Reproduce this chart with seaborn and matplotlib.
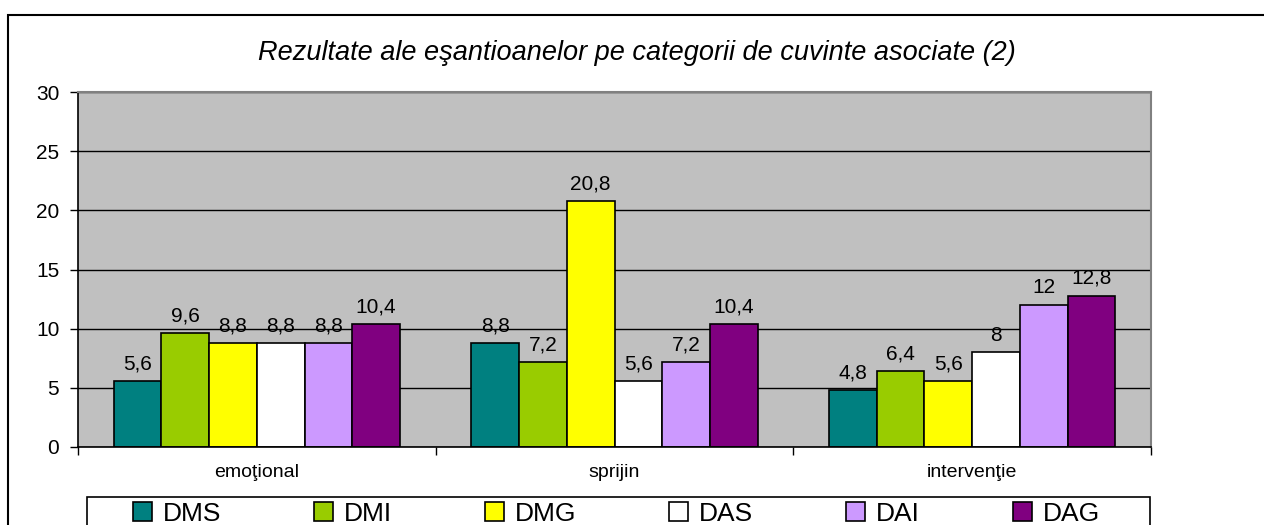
import pandas as pd
import numpy as np
import matplotlib.pyplot as plt
import seaborn as sns
from matplotlib.patches import Patch, Rectangle

categories = ["emoţional", "sprijin", "intervenţie"]
series = ["DMS", "DMI", "DMG", "DAS", "DAI", "DAG"]
values = {
    "DMS": [5.6, 8.8, 4.8],
    "DMI": [9.6, 7.2, 6.4],
    "DMG": [8.8, 20.8, 5.6],
    "DAS": [8.8, 5.6, 8.0],
    "DAI": [8.8, 7.2, 12.0],
    "DAG": [10.4, 10.4, 12.8],
}
colors = ["#008080", "#99CC00", "#FFFF00", "#FFFFFF", "#CC99FF", "#800080"]
title = "Rezultate ale eşantioanelor pe categorii de cuvinte asociate (2)"

rows = []
for s in series:
    for c, v in zip(categories, values[s]):
        rows.append({"categorie": c, "serie": s, "valoare": v})
df = pd.DataFrame(rows)

sns.set_style("white")
plt.rcParams["font.family"] = ["Liberation Sans", "DejaVu Sans"]
plt.rcParams["text.color"] = "black"
plt.rcParams["xtick.labelcolor"] = "black"
plt.rcParams["ytick.labelcolor"] = "black"

W, H = 1264, 525
fig = plt.figure(figsize=(W / 100, H / 100), dpi=100)
ax = fig.add_axes([78 / W, 1 - 447 / H, (1151 - 78) / W, (447 - 92) / H])

sns.barplot(data=df, x="categorie", y="valoare", hue="serie", order=categories,
            hue_order=series, palette=dict(zip(series, colors)), width=0.8,
            edgecolor="black", linewidth=1.2, saturation=1, legend=False, ax=ax)

for cont, s in zip(ax.containers, series):
    labels = [("%g" % v).replace(".", ",") for v in values[s]]
    ax.bar_label(cont, labels=labels, padding=5.5, fontsize=15, color="black")

ax.set_facecolor("#C0C0C0")
ax.set_ylim(0, 30)
ax.set_xlim(-0.5, 2.5)
ax.set_yticks(range(0, 31, 5))
ax.yaxis.grid(True, color="black", linewidth=1)
ax.set_axisbelow(True)
ax.set_xlabel("")
ax.set_ylabel("")
for side in ["top", "right"]:
    ax.spines[side].set_color("#808080")
    ax.spines[side].set_linewidth(1.5)
for side in ["left", "bottom"]:
    ax.spines[side].set_color("black")
    ax.spines[side].set_linewidth(1.2)

ax.tick_params(axis="y", which="major", left=True, length=5.5, width=1, color="black",
               labelsize=15, pad=8)
ax.tick_params(axis="x", which="major", bottom=False, length=0, labelsize=14, pad=12)
ax.set_xticks([-0.5, 0.5, 1.5, 2.5], minor=True)
ax.tick_params(axis="x", which="minor", bottom=True, length=6, width=1, color="black")

fig.text(637 / W, 1 - 60 / H, title, ha="center", va="baseline", fontsize=19.5, style="italic")

# legend box
fig.patches.append(Rectangle((87 / W, -0.05), (1150 - 87) / W, 0.05 + (H - 497) / H,
                             transform=fig.transFigure, facecolor="none", edgecolor="black",
                             linewidth=1.2, clip_on=False))
handles = [Patch(facecolor=c, edgecolor="black", linewidth=1.2) for c in colors]
fig.legend(handles, series, loc="center left", ncol=6, mode="expand", frameon=False,
           bbox_to_anchor=(133 / W, (H - 514) / H - 0.02, (1100 - 133) / W, 0.04),
           fontsize=19, handlelength=0.72, handleheight=0.72, handletextpad=0.42,
           borderpad=0, borderaxespad=0)

# outer chart border
fig.patches.append(Rectangle((8 / W, -0.1), 1.2, 0.1 + (H - 15) / H,
                             transform=fig.transFigure, facecolor="none", edgecolor="black",
                             linewidth=1.5, clip_on=False))

fig.savefig("out.png", dpi=100)
